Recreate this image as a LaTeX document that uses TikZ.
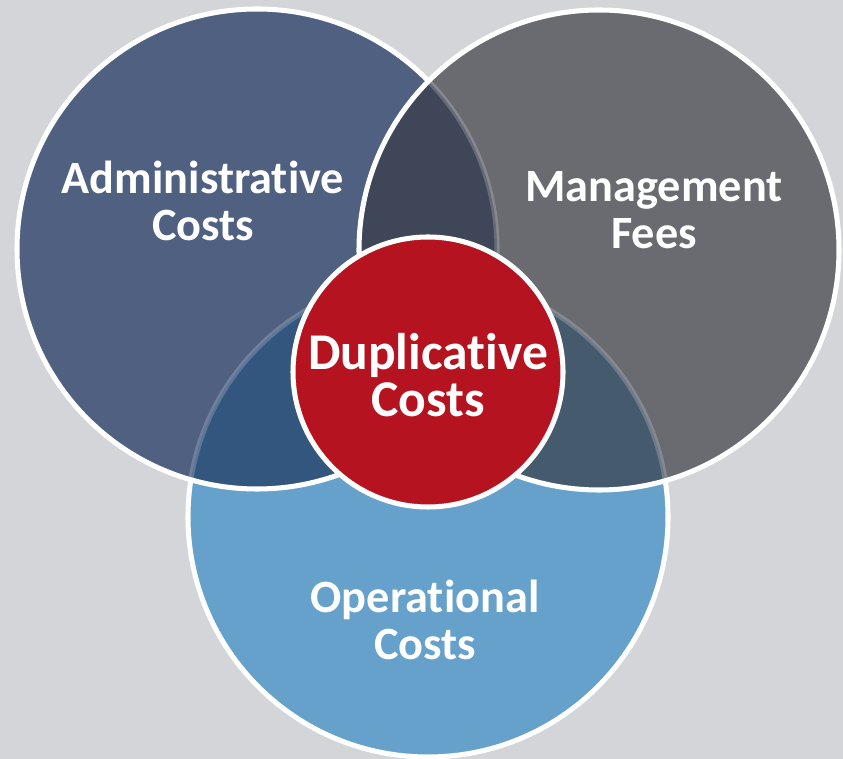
\documentclass[tikz,border=0pt]{standalone}
\usepackage{fontspec}
\setmainfont{Carlito}[Ligatures=NoCommon]

\definecolor{bgcol}{HTML}{D4D5D9}
\definecolor{admincol}{HTML}{4F6081}
\definecolor{mgmtcol}{HTML}{6A6B71}
\definecolor{opscol}{HTML}{66A1CC}
\definecolor{dupcol}{HTML}{B4131F}
\definecolor{admmgmtcol}{HTML}{3F4657}
\definecolor{admopscol}{HTML}{33567F}
\definecolor{mgmtopscol}{HTML}{465A6E}

\tikzset{
  ring/.style={draw=white, line width=4.3pt},
  faintring/.style={draw=white, draw opacity=0.2, line width=4.3pt},
  vennlabel/.style={text=white, font=\bfseries\fontsize{39.5}{40.5}\selectfont, align=center},
  duplabelstyle/.style={vennlabel, font=\bfseries\fontsize{44}{40.5}\selectfont}
}

\begin{document}
\begin{tikzpicture}[x=0.03cm, y=0.03cm]

% background
\fill[bgcol] (0,0) rectangle (843,759);
\useasboundingbox (0,0) rectangle (843,759);

% circle centres
\coordinate (ops) at (428,242);
\coordinate (admin) at (257,510);
\coordinate (mgmt) at (599,509);
\coordinate (dup) at (428,387);

% operational costs
\fill[opscol] (ops) circle (240);
\draw[ring] (ops) circle (240);

% administrative costs
\fill[admincol] (admin) circle (240);
\begin{scope}
  \clip (admin) circle (240);
  \fill[admopscol] (ops) circle (240);
  \draw[faintring] (ops) circle (240);
\end{scope}
\draw[ring] (admin) circle (240);

% management fees
\fill[mgmtcol] (mgmt) circle (240);
\begin{scope}
  \clip (mgmt) circle (240);
  \fill[mgmtopscol] (ops) circle (240);
  \fill[admmgmtcol] (admin) circle (240);
  \draw[faintring] (ops) circle (240);
  \draw[faintring] (admin) circle (240);
\end{scope}
\draw[ring] (mgmt) circle (240);

% duplicative costs
\fill[dupcol] (dup) circle (135);
\draw[ring] (dup) circle (135);

% labels
\node[vennlabel] (adminlabel) at (203,558) {Administrative\\Costs};
\node[vennlabel] (mgmtlabel) at (654,549) {Management\\Fees};
\node[duplabelstyle] (duplabel) at (428,384) {Duplicative\\Costs};
\node[vennlabel] (opslabel) at (425,139) {Operational\\Costs};

\end{tikzpicture}
\end{document}
